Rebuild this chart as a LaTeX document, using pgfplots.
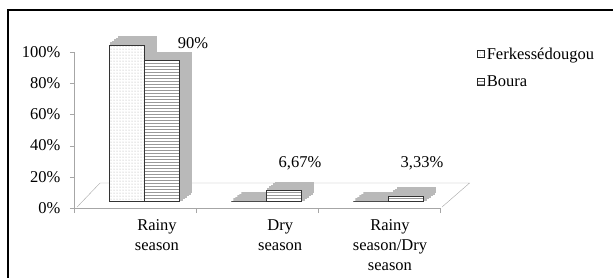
\documentclass[border=0pt]{standalone}
\usepackage{pgfplots}
\pgfplotsset{compat=1.18}
\usepackage{pgfplotstable}
\usepackage{fontspec}
\setmainfont{Liberation Serif}
\usetikzlibrary{patterns}
\newcommand{\fs}{\fontsize{16.5}{20}\selectfont}
\pgfplotstableread{
x ferke boura
0 100 90
1 0 6.67
2 0 3.33
}\datatable
\pgfplotsset{depth/.style={ybar, bar width=35pt, fill=gray!55, draw=gray!55, line width=2.6pt, forget plot}}
\begin{document}
\begin{tikzpicture}[x=1pt,y=1pt]
\path[use as bounding box] (0,0) rectangle (613,277);
\draw[line width=2pt] (8,-2) -- (8,267) -- (615,267);
\begin{axis}[
  at={(74pt,69pt)}, anchor=south west, scale only axis,
  width=366pt, height=156pt,
  xmin=-0.5, xmax=2.5, ymin=0, ymax=100,
  clip=false,
  axis x line*=bottom, axis y line*=left,
  axis line style={gray!70},
  tick align=outside,
  ytick={0,20,40,60,80,100},
  yticklabels={0\%,20\%,40\%,60\%,80\%,100\%},
  ytick style={gray!70},
  major tick length=4pt,
  xtick={0.18,1.19,2.09},
  xticklabels={{Rainy\\season},{Dry\\season},{Rainy\\season/Dry\\season}},
  major x tick style={draw=none},
  minor xtick={-0.5,0.5,1.5,2.5},
  minor x tick style={gray!70},
  minor tick length=5pt,
  xticklabel style={align=center, font=\fs, yshift=-4pt},
  yticklabel style={font=\fs, xshift=-6pt},
  legend style={at={(1.1,1.04)}, anchor=north west, draw=none, fill=none,
    row sep=11pt, font=\fs, inner sep=0pt},
  legend cell align=left,
]
\draw[gray!70] (axis cs:-0.475,0.6) -- (axis cs:-0.287,16) -- (axis cs:2.742,16) -- (axis cs:2.516,0.6);
% Ferkessedougou depth
\addplot[depth, bar shift=-6pt, yshift=8.5pt] table[x=x,y=ferke]{\datatable};
\addplot[depth, bar shift=-4pt, yshift=10pt] table[x=x,y=ferke]{\datatable};
\addplot[depth, bar shift=-2pt, yshift=11.5pt] table[x=x,y=ferke]{\datatable};
\addplot[depth, bar shift=0pt, yshift=13pt] table[x=x,y=ferke]{\datatable};
\addplot[depth, bar shift=2pt, yshift=14.5pt] table[x=x,y=ferke]{\datatable};
\addplot[depth, bar shift=3.5pt, yshift=15.4pt, line width=1.2pt] table[x=x,y=ferke]{\datatable};
% Ferkessedougou front
\addplot[ybar, bar width=35pt, bar shift=-8pt, yshift=7pt, fill=white, draw=gray!40!black, line width=0.6pt,
  postaction={pattern=dots, pattern color=gray!70}, forget plot] table[x=x,y=ferke]{\datatable};
% Boura depth
\addplot[depth, bar shift=29pt, yshift=8.5pt] table[x=x,y=boura]{\datatable};
\addplot[depth, bar shift=31pt, yshift=10pt] table[x=x,y=boura]{\datatable};
\addplot[depth, bar shift=33pt, yshift=11.5pt] table[x=x,y=boura]{\datatable};
\addplot[depth, bar shift=35pt, yshift=13pt] table[x=x,y=boura]{\datatable};
\addplot[depth, bar shift=37pt, yshift=14.5pt] table[x=x,y=boura]{\datatable};
\addplot[depth, bar shift=38.5pt, yshift=15.4pt, line width=1.2pt] table[x=x,y=boura]{\datatable};
% Boura front
\addplot[ybar, bar width=35pt, bar shift=27pt, yshift=7pt, fill=white, draw=gray!40!black, line width=0.6pt,
  postaction={pattern=horizontal lines, pattern color=gray!80}, forget plot] table[x=x,y=boura]{\datatable};
\addlegendimage{legend image code/.code={\draw[fill=white, postaction={pattern=dots, pattern color=gray}, draw=gray!30!black, line width=1pt] (0pt,-3.5pt) rectangle (7pt,3.5pt);}}
\addlegendentry{Ferkessédougou}
\addlegendimage{legend image code/.code={\draw[fill=white, postaction={pattern=horizontal lines, pattern color=gray}, draw=gray!30!black, line width=1pt] (0pt,-3.5pt) rectangle (7pt,3.5pt);}}
\addlegendentry{Boura}
\node[font=\fs] at (axis cs:0.475,105.8) {90\%};
\node[font=\fs] at (axis cs:1.352,28.8) {6,67\%};
\node[font=\fs] at (axis cs:2.352,28.8) {3,33\%};
\end{axis}
\end{tikzpicture}
\end{document}
